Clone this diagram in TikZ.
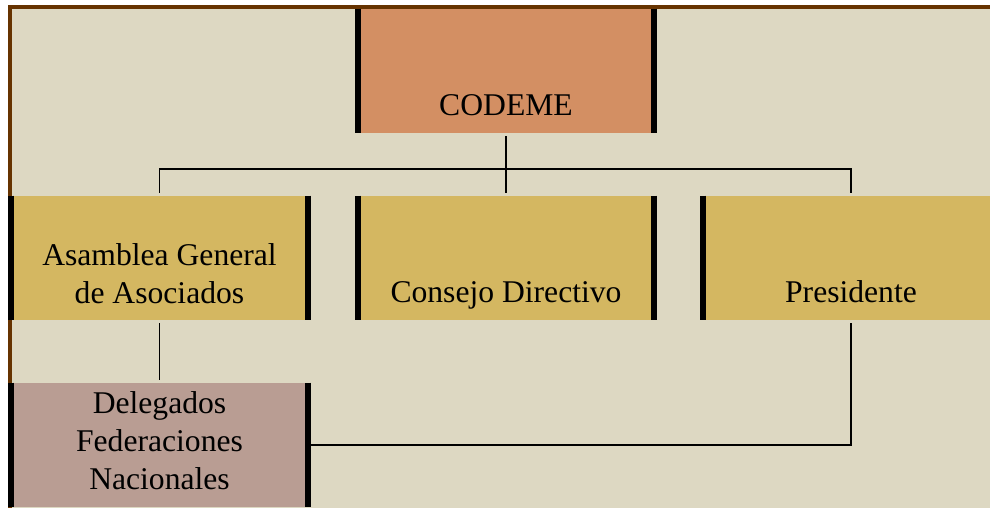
\documentclass[tikz,border=0pt]{standalone}
\usepackage{fontspec}
\setmainfont{Liberation Serif}
\definecolor{paper}{HTML}{DDD8C2}
\definecolor{frame}{HTML}{663300}
\definecolor{topcol}{HTML}{D38F63}
\definecolor{midcol}{HTML}{D4B761}
\definecolor{lowcol}{HTML}{B99D93}
\tikzset{
	unit/.style={rectangle, inner sep=0pt, minimum height=2.48cm, font=\fontsize{18}{21.5}\selectfont},
	bar/.style={line width=0.12cm, black},
	link/.style={line width=0.8pt, shorten <=0.06cm, shorten >=0.06cm},
}
\begin{document}
\begin{tikzpicture}[x=0.02cm, y=-0.02cm]
	\useasboundingbox (0,0) rectangle (990,508);
	\fill[frame] (8,5) rectangle (990,508);
	\fill[paper] (12,9) rectangle (990,508);

	\node (codeme) [unit, fill=topcol, minimum width=6.04cm, text height=2.14cm, text depth=0.34cm] at (506,71) {CODEME};
	\node (asamblea) [unit, fill=midcol, minimum width=6.06cm, align=center, text height=2.14cm, text depth=0.34cm] at (159.5,258) {Asamblea General\\de Asociados};
	\node (consejo) [unit, fill=midcol, minimum width=6.04cm, text height=2.12cm, text depth=0.36cm] at (506,258) {Consejo Directivo};
	\node (presidente) [unit, fill=midcol, minimum width=6.04cm, text height=2.12cm, text depth=0.36cm] at (851,258) {Presidente};
	\node (delegados) [unit, fill=lowcol, minimum width=6.06cm, align=center, text height=2.12cm, text depth=0.36cm] at (159.5,445) {Delegados\\Federaciones\\Nacionales};

	\foreach \n in {codeme,asamblea,consejo,presidente,delegados} {
		\draw[bar] ([xshift=0.06cm]\n.north west) -- ([xshift=0.06cm]\n.south west);
		\draw[bar] ([xshift=-0.06cm]\n.north east) -- ([xshift=-0.06cm]\n.south east);
	}

	\coordinate (bus) at (506,169);
	\draw[link] (codeme.south) -- (consejo.north);
	\draw[link] (asamblea.north) |- (bus) -| (presidente.north);
	\draw[link] (asamblea.south) -- (delegados.north);
	\draw[link, shorten <=0pt] (delegados.east) -| (presidente.south);
\end{tikzpicture}
\end{document}
